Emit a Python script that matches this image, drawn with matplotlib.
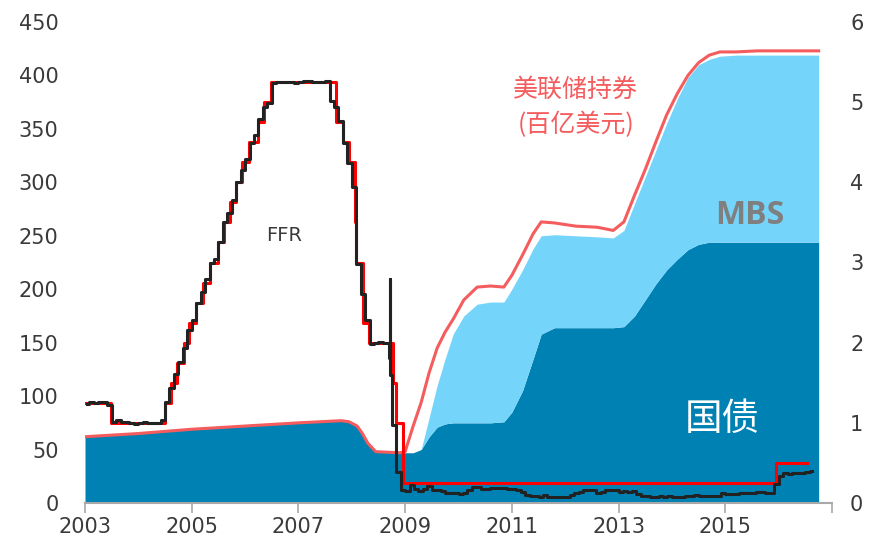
import numpy as np
import pandas as pd
import matplotlib
matplotlib.use("Agg")
import matplotlib.pyplot as plt

plt.rcParams['font.family'] = ['DejaVu Sans', 'Noto Sans CJK SC']

# Fed securities holdings, 百亿美元 (left axis)
hold_year = [2003.0, 2004.0, 2005.0, 2006.0, 2007.0, 2007.8, 2007.95, 2008.1, 2008.2, 2008.3,
             2008.45, 2008.9, 2009.0, 2009.15, 2009.3, 2009.45, 2009.6, 2009.75, 2009.9, 2010.1,
             2010.35, 2010.6, 2010.85, 2011.0, 2011.2, 2011.4, 2011.55, 2011.8, 2012.2, 2012.6,
             2012.9, 2013.1, 2013.3, 2013.5, 2013.7, 2013.9, 2014.1, 2014.3, 2014.5, 2014.7,
             2014.9, 2015.2, 2015.6, 2016.0, 2016.4, 2016.75]
treasury = [62, 65, 69, 72, 75, 77, 76, 72, 65, 56,
            48, 47, 47, 47, 50, 62, 71, 74, 75, 75,
            75, 75, 76, 85, 105, 135, 158, 164, 164, 164,
            164, 165, 175, 190, 205, 218, 228, 237, 242, 244,
            244, 244, 244, 244, 244, 244]
treasury_mbs = [62, 65, 69, 72, 75, 77, 76, 72, 65, 56,
                48, 47, 47, 47, 50, 80, 110, 135, 158, 175,
                186, 188, 188, 200, 218, 238, 250, 251, 250, 249,
                248, 255, 280, 305, 330, 355, 378, 398, 410, 415,
                418, 419, 419, 419, 419, 419]
holdings_total = [62, 65, 69, 72, 75, 77, 76, 72, 65, 56,
                  48, 47, 48, 72, 94, 122, 145, 160, 172, 190,
                  202, 203, 202, 213, 232, 252, 263, 262, 259, 258,
                  255, 263, 288, 312, 338, 363, 383, 400, 412, 419,
                  422, 422, 423, 423, 423, 423]

# FOMC target rate, % (right axis)
target_dates = ['2003-01-01', '2003-06-25', '2004-06-30', '2004-08-10', '2004-09-21',
                '2004-11-10', '2004-12-14', '2005-02-02', '2005-03-22', '2005-05-03',
                '2005-06-30', '2005-08-09', '2005-09-20', '2005-11-01', '2005-12-13',
                '2006-01-31', '2006-03-28', '2006-05-10', '2006-06-29', '2007-09-18',
                '2007-10-31', '2007-12-11', '2008-01-22', '2008-01-30', '2008-03-18',
                '2008-04-30', '2008-10-08', '2008-10-29', '2008-12-16', '2015-12-16',
                '2016-07-15']
target_rate = [1.25, 1.00, 1.25, 1.50, 1.75,
               2.00, 2.25, 2.50, 2.75, 3.00,
               3.25, 3.50, 3.75, 4.00, 4.25,
               4.50, 4.75, 5.00, 5.25, 4.75,
               4.50, 4.25, 3.50, 3.00, 2.25,
               2.00, 1.50, 1.00, 0.25, 0.50,
               0.50]

# effective FFR, monthly, Jan 2003 - Aug 2016
eff_rate = [1.24, 1.26, 1.25, 1.26, 1.26, 1.22, 1.01, 1.03, 1.01, 1.01, 1.00, 0.98,
            1.00, 1.01, 1.00, 1.00, 1.00, 1.03, 1.26, 1.43, 1.61, 1.76, 1.93, 2.16,
            2.28, 2.50, 2.63, 2.79, 3.00, 3.04, 3.26, 3.50, 3.62, 3.78, 4.00, 4.16,
            4.29, 4.49, 4.59, 4.79, 4.94, 4.99, 5.24, 5.25, 5.25, 5.25, 5.25, 5.24,
            5.25, 5.26, 5.26, 5.25, 5.25, 5.25, 5.26, 5.02, 4.94, 4.76, 4.49, 4.24,
            3.94, 2.98, 2.61, 2.28, 1.98, 2.00, 2.01, 2.00, 1.81, 0.97, 0.39, 0.16,
            0.15, 0.22, 0.18, 0.15, 0.18, 0.21, 0.16, 0.16, 0.15, 0.12, 0.12, 0.12,
            0.11, 0.13, 0.16, 0.20, 0.20, 0.18, 0.18, 0.19, 0.19, 0.19, 0.19, 0.18,
            0.17, 0.16, 0.14, 0.10, 0.09, 0.09, 0.07, 0.10, 0.08, 0.07, 0.08, 0.07,
            0.08, 0.10, 0.13, 0.14, 0.16, 0.16, 0.16, 0.13, 0.14, 0.16, 0.16, 0.16,
            0.14, 0.15, 0.14, 0.15, 0.11, 0.09, 0.09, 0.08, 0.08, 0.09, 0.08, 0.09,
            0.07, 0.07, 0.08, 0.09, 0.09, 0.10, 0.09, 0.09, 0.09, 0.09, 0.09, 0.12,
            0.11, 0.11, 0.11, 0.12, 0.12, 0.13, 0.13, 0.14, 0.14, 0.12, 0.12, 0.24,
            0.34, 0.38, 0.36, 0.37, 0.37, 0.38, 0.39, 0.40]
# daily spike around Lehman
spike_dates = ['2008-09-12', '2008-09-16', '2008-09-19']
spike_rate = [2.00, 2.80, 1.60]

x_ticks = [2003, 2005, 2007, 2009, 2011, 2013, 2015, 2017]
x_labels = ['2003', '2005', '2007', '2009', '2011', '2013', '2015', '']

DARK = '#0081B4'
LIGHT = '#75D4FA'
SALMON = '#F45C5E'
TEXT = '#3A3A3A'


def dec_year(dates):
    d = pd.to_datetime(dates)
    return (d.year + (d.dayofyear - 1) / 365.25).to_numpy()


t_target = dec_year(target_dates)
t_eff = 2003 + (np.arange(len(eff_rate)) + 0.5) / 12
t_all = np.concatenate([t_eff, dec_year(spike_dates)])
v_all = np.concatenate([eff_rate, spike_rate])
order = np.argsort(t_all)

fig = plt.figure(figsize=(8.73, 5.45), dpi=100)
ax1 = fig.add_axes([85 / 873, 42 / 545, 747 / 873, 481 / 545])

ax1.fill_between(hold_year, 0, treasury, color=DARK, lw=0)
ax1.fill_between(hold_year, treasury, treasury_mbs, color=LIGHT, lw=0)
ax1.plot(hold_year, holdings_total, color=SALMON, lw=2.2)

ax1.set_xlim(2003, 2017)
ax1.set_ylim(0, 450)
ax1.set_yticks(range(0, 451, 50))
ax1.set_xticks(x_ticks)
ax1.set_xticklabels(x_labels)

ax2 = ax1.twinx()
ax2.plot(t_target, target_rate, color='#FF0000', lw=2.2, drawstyle='steps-post')
ax2.plot(t_all[order], v_all[order], color='#222222', lw=2.2, drawstyle='steps-mid')
ax2.set_ylim(0, 6)
ax2.set_yticks(range(0, 7))

for ax in (ax1, ax2):
    for s in ax.spines.values():
        s.set_visible(False)
ax1.spines['bottom'].set_visible(True)
ax1.spines['bottom'].set_color('#A8A8A8')
ax1.spines['bottom'].set_linewidth(1.5)

ax1.tick_params(axis='x', colors='#A8A8A8', length=7, width=1.2, labelcolor=TEXT,
                labelsize=15, pad=3)
ax1.tick_params(axis='y', length=0, labelcolor=TEXT, labelsize=15, pad=19)
ax2.tick_params(axis='y', length=0, labelcolor=TEXT, labelsize=15, pad=13)

ax1.text(2006.74, 250, 'FFR', color=TEXT, fontsize=14, ha='center', va='center')
ax1.text(2012.2, 387, '美联储持券', color=SALMON, fontsize=18, ha='center', va='center',
         family=['Noto Sans CJK SC'])
ax1.text(2012.2, 354, '(百亿美元)', color=SALMON, fontsize=18, ha='center', va='center',
         family=['Noto Sans CJK SC'])
ax1.text(2015.45, 269, 'MBS', color='#7F7F7F', fontsize=23, fontweight='bold',
         ha='center', va='center', family=['Open Sans'])
ax1.text(2014.95, 78, '国债', color='white', fontsize=27, ha='center', va='center',
         family=['Noto Sans CJK SC'])

fig.savefig('out.png', dpi=100)
